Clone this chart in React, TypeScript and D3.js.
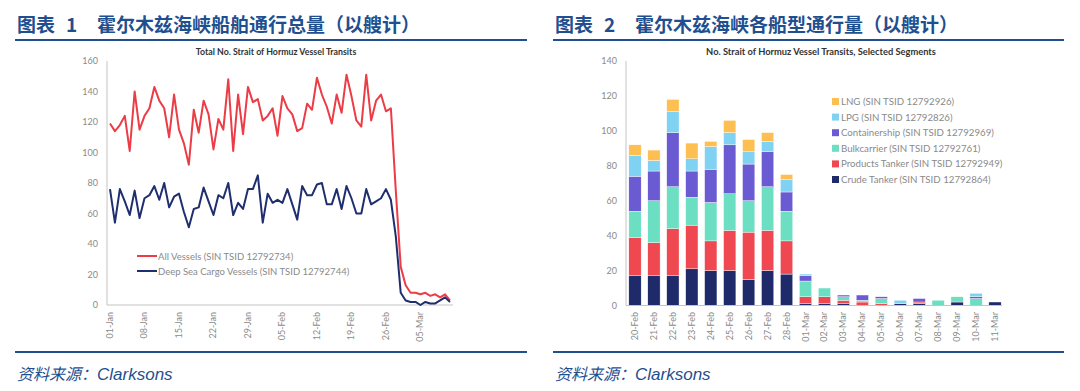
import React, { useEffect, useRef } from "react";
import * as d3 from "d3";

// left chart: daily transits 01-Jan .. 11-Mar
const allVessels = [
  119, 114, 118, 124, 101, 140, 115, 124, 129, 143, 134, 129, 110, 138, 115, 106, 92, 128, 113, 134,
  125, 102, 122, 115, 148, 101, 138, 112, 143, 133, 135, 121, 124, 129, 111, 137, 129, 125, 114, 116,
  132, 128, 149, 138, 130, 119, 138, 126, 151, 137, 121, 117, 151, 121, 134, 138, 127, 129, 75, 25,
  13, 8, 8, 7, 8, 6, 7, 5, 7, 3,
];
const deepSea = [
  76, 54, 76, 68, 59, 75, 57, 70, 72, 78, 69, 80, 64, 71, 73, 61, 51, 63, 64, 77,
  68, 59, 72, 70, 80, 59, 67, 63, 76, 76, 85, 54, 73, 67, 69, 67, 76, 66, 56, 78,
  72, 72, 79, 80, 66, 66, 76, 63, 78, 70, 60, 60, 76, 66, 68, 70, 76, 69, 45, 8,
  3, 2, 2, 0, 2, 1, 1, 3, 5, 2,
];
const leftTicks = ["01-Jan", "08-Jan", "15-Jan", "22-Jan", "29-Jan", "05-Feb", "12-Feb", "19-Feb", "26-Feb", "05-Mar"];

// right chart: segments 20-Feb .. 11-Mar
const days = [
  "20-Feb", "21-Feb", "22-Feb", "23-Feb", "24-Feb", "25-Feb", "26-Feb", "27-Feb", "28-Feb", "01-Mar",
  "02-Mar", "03-Mar", "04-Mar", "05-Mar", "06-Mar", "07-Mar", "08-Mar", "09-Mar", "10-Mar", "11-Mar",
];
const crude = [17, 17, 17, 21, 20, 20, 15, 20, 18, 1, 1, 1, 0, 0, 1, 1, 0, 2, 0, 2];
const products = [22, 19, 27, 25, 17, 23, 27, 23, 19, 4, 4, 2, 2, 1, 0, 1, 0, 0, 0, 0];
const bulk = [15, 24, 24, 16, 22, 21, 18, 25, 17, 9, 5, 2, 1, 3, 0, 0, 3, 3, 4, 0];
const container = [20, 17, 31, 15, 19, 28, 21, 20, 11, 3, 0, 1, 3, 1, 0, 2, 0, 0, 1, 0];
const lpg = [12, 6, 12, 7, 13, 7, 7, 6, 7, 1, 0, 0, 0, 0, 2, 0, 0, 0, 2, 0];
const lng = [6, 6, 7, 9, 3, 7, 7, 5, 3, 0, 0, 0, 0, 0, 0, 0, 0, 0, 0, 0];

const segKeys = ["crude", "products", "bulk", "container", "lpg", "lng"];
const segNames = {
  lng: "LNG (SIN TSID 12792926)",
  lpg: "LPG (SIN TSID 12792826)",
  container: "Containership (SIN TSID 12792969)",
  bulk: "Bulkcarrier (SIN TSID 12792761)",
  products: "Products Tanker (SIN TSID 12792949)",
  crude: "Crude Tanker (SIN TSID 12792864)",
};
const segColors = {
  crude: "#1f2a6b",
  products: "#ef4850",
  bulk: "#6cdfc3",
  container: "#6a5bd3",
  lpg: "#80d2f2",
  lng: "#fdbf52",
};

const FONT = "Lato, 'Open Sans', sans-serif";
const GREY = "#8a8a8a";
const AXIS = "#c4c4c4";
const BLUE = "#1f4f8f";

const App = () => {
  const ref = useRef(null);

  useEffect(() => {
    const svg = d3.select(ref.current);
    svg.selectAll("*").remove();

    // ---------- frames / titles ----------
    const frames = [
      { x0: 15, x1: 527, no: "1", title: "霍尔木兹海峡船舶通行总量（以艘计）" },
      { x0: 553, x1: 1064, no: "2", title: "霍尔木兹海峡各船型通行量（以艘计）" },
    ];
    frames.forEach((f) => {
      const g = svg.append("g");
      const tt = g.append("g")
        .style("font-family", "'Noto Sans CJK SC', sans-serif")
        .style("font-weight", "bold")
        .style("font-size", "19px")
        .attr("fill", BLUE);
      tt.append("text").attr("x", f.x0 + 2).attr("y", 32).text("图表");
      tt.append("text").attr("x", f.x0 + 51).attr("y", 32).text(f.no);
      tt.append("text").attr("x", f.x0 + 82).attr("y", 32).text(f.title);
      g.append("line").attr("x1", f.x0).attr("x2", f.x1).attr("y1", 40).attr("y2", 40)
        .attr("stroke", BLUE).attr("stroke-width", 2);
      g.append("line").attr("x1", f.x0).attr("x2", f.x1).attr("y1", 352).attr("y2", 352)
        .attr("stroke", BLUE).attr("stroke-width", 2);
      const src = g.append("text").attr("x", f.x0 + 2).attr("y", 380)
        .attr("fill", BLUE).style("font-style", "italic").style("font-size", "16px")
        .style("font-family", "'Noto Sans CJK SC', sans-serif");
      src.append("tspan").text("资料来源：");
      src.append("tspan").style("font-family", "'Liberation Sans Narrow', 'Liberation Sans', sans-serif")
        .style("font-size", "17px").text("Clarksons");
    });

    // ---------- left chart ----------
    const L = svg.append("g");
    const lx = d3.scaleLinear().domain([0, allVessels.length - 1]).range([110, 450]);
    const ly = d3.scaleLinear().domain([0, 160]).range([305, 61]);

    L.append("text").attr("x", 276).attr("y", 55).attr("text-anchor", "middle")
      .style("font-family", FONT).style("font-weight", "bold").style("font-size", "8.8px")
      .attr("fill", "#333").text("Total No. Strait of Hormuz Vessel Transits");

    L.append("line").attr("x1", 107).attr("x2", 107).attr("y1", ly(160)).attr("y2", ly(0)).attr("stroke", AXIS);
    L.append("line").attr("x1", 107).attr("x2", 453).attr("y1", ly(0)).attr("y2", ly(0)).attr("stroke", AXIS);

    L.selectAll(".ytick").data(d3.range(0, 161, 20)).enter().append("text")
      .attr("x", 98).attr("y", (d) => ly(d) + 3).attr("text-anchor", "end")
      .style("font-family", FONT).style("font-size", "9px").attr("fill", GREY).text((d) => d);

    L.selectAll(".xtick").data(leftTicks).enter().append("text")
      .attr("transform", (d, i) => `translate(${lx(i * 7) + 3},312) rotate(-90)`)
      .attr("text-anchor", "end")
      .style("font-family", FONT).style("font-size", "9px").attr("fill", GREY).text((d) => d);

    const line = d3.line().x((d, i) => lx(i)).y((d) => ly(d));
    L.append("path").datum(allVessels).attr("d", line).attr("fill", "none")
      .attr("stroke", "#ec3c46").attr("stroke-width", 2).attr("stroke-linejoin", "round");
    L.append("path").datum(deepSea).attr("d", line).attr("fill", "none")
      .attr("stroke", "#1f2e6e").attr("stroke-width", 2).attr("stroke-linejoin", "round");

    const lleg = [
      { name: "All Vessels (SIN TSID 12792734)", color: "#ec3c46" },
      { name: "Deep Sea Cargo Vessels (SIN TSID 12792744)", color: "#1f2e6e" },
    ];
    lleg.forEach((d, i) => {
      const y = 256 + i * 15;
      L.append("line").attr("x1", 137).attr("x2", 157).attr("y1", y).attr("y2", y)
        .attr("stroke", d.color).attr("stroke-width", 2);
      L.append("text").attr("x", 158).attr("y", y + 3.5)
        .style("font-family", FONT).style("font-size", "9.5px").attr("fill", GREY).text(d.name);
    });

    // ---------- right chart ----------
    const R = svg.append("g");
    const rows = days.map((d, i) => ({
      day: d, crude: crude[i], products: products[i], bulk: bulk[i],
      container: container[i], lpg: lpg[i], lng: lng[i],
    }));
    const stacked = d3.stack().keys(segKeys)(rows);
    const rx = d3.scaleBand().domain(days).range([626, 1004]).paddingInner(0.35).paddingOuter(0.15);
    const ry = d3.scaleLinear().domain([0, 140]).range([305.5, 61]);

    R.append("text").attr("x", 821).attr("y", 55).attr("text-anchor", "middle")
      .style("font-family", FONT).style("font-weight", "bold").style("font-size", "9.3px")
      .attr("fill", "#333").text("No. Strait of Hormuz Vessel Transits, Selected Segments");

    R.selectAll(".ytick").data(d3.range(0, 141, 20)).enter().append("text")
      .attr("x", 617).attr("y", (d) => ry(d) + 3).attr("text-anchor", "end")
      .style("font-family", FONT).style("font-size", "9px").attr("fill", GREY).text((d) => d);

    R.selectAll("g.layer").data(stacked).enter().append("g").attr("class", "layer")
      .attr("fill", (s) => segColors[s.key])
      .selectAll("rect").data((s) => s).enter().append("rect")
      .attr("x", (d) => rx(d.data.day))
      .attr("width", rx.bandwidth())
      .attr("y", (d) => ry(d[1]))
      .attr("height", (d) => Math.max(0, ry(d[0]) - ry(d[1])))
      .attr("stroke", "#fff").attr("stroke-width", 0.4);

    R.append("line").attr("x1", 626).attr("x2", 626).attr("y1", ry(140)).attr("y2", ry(0)).attr("stroke", AXIS);
    R.append("line").attr("x1", 626).attr("x2", 1002).attr("y1", ry(0)).attr("y2", ry(0)).attr("stroke", AXIS);

    R.selectAll(".xtick").data(days).enter().append("text")
      .attr("transform", (d) => `translate(${rx(d) + rx.bandwidth() / 2 + 3},312) rotate(-90)`)
      .attr("text-anchor", "end")
      .style("font-family", FONT).style("font-size", "9px").attr("fill", GREY).text((d) => d);

    const legendOrder = ["lng", "lpg", "container", "bulk", "products", "crude"];
    legendOrder.forEach((k, i) => {
      const y = 101.5 + i * 15.6;
      R.append("rect").attr("x", 832).attr("y", y - 3.5).attr("width", 7).attr("height", 7).attr("fill", segColors[k]);
      R.append("text").attr("x", 841).attr("y", y + 3.5)
        .style("font-family", FONT).style("font-size", "9.7px").attr("fill", GREY).text(segNames[k]);
    });
  }, []);

  return (
    <svg ref={ref} width={1080} height={391} style={{ display: "block", position: "absolute", left: 0, top: 0, background: "#fff" }} />
  );
};

export default App;
